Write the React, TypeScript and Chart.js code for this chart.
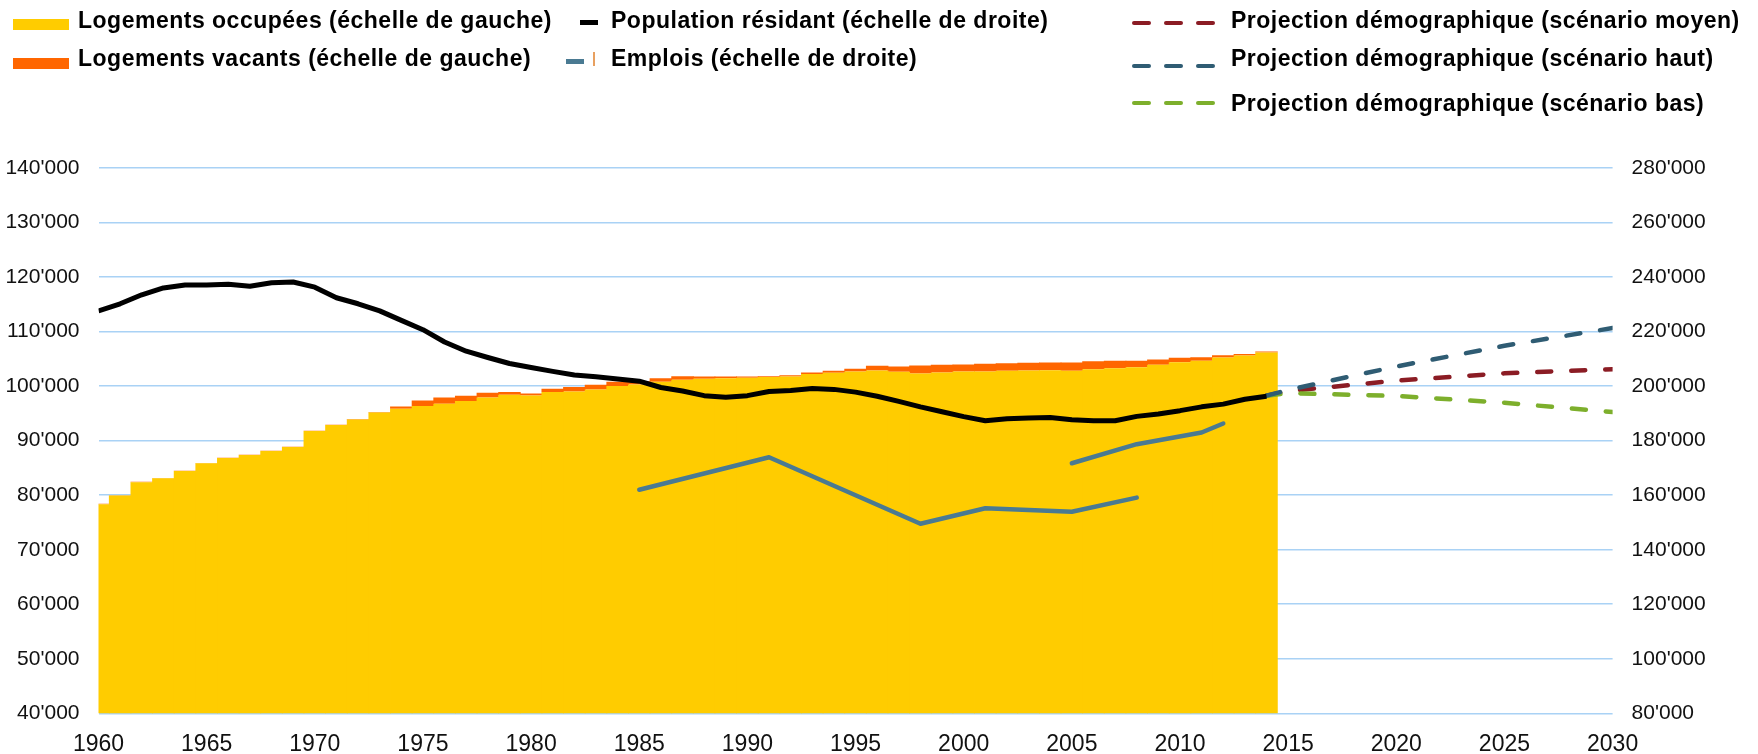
import React, { useEffect, useRef } from "react";
import { Chart, registerables } from "chart.js";

Chart.register(...registerables);

// ---------- DATA ----------
const YEARS = [
  1960, 1961, 1962, 1963, 1964, 1965, 1966, 1967, 1968, 1969,
  1970, 1971, 1972, 1973, 1974, 1975, 1976, 1977, 1978, 1979,
  1980, 1981, 1982, 1983, 1984, 1985, 1986, 1987, 1988, 1989,
  1990, 1991, 1992, 1993, 1994, 1995, 1996, 1997, 1998, 1999,
  2000, 2001, 2002, 2003, 2004, 2005, 2006, 2007, 2008, 2009,
  2010, 2011, 2012, 2013, 2014,
];

// Logements occupés (échelle de gauche)
const OCCUPIED = [
  78350, 79940, 82380, 83110, 84450, 85850, 86830, 87380, 88110, 88840,
  91770, 92870, 93900, 95180, 95850, 96340, 96770, 97260, 97930, 98410,
  98290, 98900, 99020, 99390, 100000, 100300, 100790, 101160, 101340, 101460,
  101520, 101650, 101770, 102200, 102440, 102680, 102870, 102620, 102320, 102500,
  102680, 102680, 102800, 102870, 102930, 102800, 103100, 103300, 103480, 103900,
  104390, 104630, 105240, 105600, 106160,
];

// Logements vacants (échelle de gauche)
const VACANT = [
  100, 60, 70, 60, 50, 50, 50, 50, 40, 40,
  50, 50, 50, 60, 430, 1040, 1160, 970, 850, 490,
  370, 610, 800, 850, 790, 600, 670, 670, 430, 310,
  250, 180, 230, 300, 360, 490, 850, 980, 1460, 1400,
  1280, 1410, 1400, 1400, 1400, 1530, 1470, 1330, 1150, 980,
  790, 670, 430, 300, 180,
];

// Population résidante (échelle de droite)
const POPULATION = [
  227600, 230200, 233500, 236000, 237100, 237100, 237400, 236600, 237900, 238200,
  236300, 232400, 230200, 227600, 224100, 220700, 216200, 212800, 210500, 208300,
  206800, 205400, 204100, 203400, 202600, 201800, 199500, 198200, 196500, 195900,
  196500, 198000, 198400, 199100, 198800, 197800, 196300, 194400, 192400, 190600,
  188800, 187300, 188000, 188300, 188500, 187700, 187300, 187300, 188900, 189800,
  191000, 192400, 193400, 195200, 196300,
];

// Emplois (échelle de droite) — deux séries
const EMPLOIS_A_YEARS = [1985, 1991, 1998, 2001, 2005, 2008];
const EMPLOIS_A = [162000, 173900, 149500, 155200, 153900, 159100];
const EMPLOIS_B_YEARS = [2005, 2008, 2011, 2012];
const EMPLOIS_B = [171700, 178700, 183000, 186300];

// Projections démographiques (échelle de droite)
const PROJ_YEARS = [2014, 2015, 2020, 2025, 2030];
const PROJ_MOYEN = [196500, 198200, 202000, 204700, 206200];
const PROJ_HAUT = [196500, 198600, 207200, 214800, 221300];
const PROJ_BAS = [196500, 197400, 196400, 193900, 190500];

const LEFT_MIN = 40000, LEFT_MAX = 140000, LEFT_STEP = 10000;
const RIGHT_MIN = 80000, RIGHT_MAX = 280000, RIGHT_STEP = 20000;
const X_MIN = 1960, X_MAX = 2030, X_STEP = 5;

// ---------- STYLE ----------
const C_YELLOW = "#FFCC00";
const C_ORANGE = "#FF6600";
const C_BLACK = "#000000";
const C_TEAL = "#4A7A92";
const C_RED = "#8B1C24";
const C_BLUE = "#2F5C73";
const C_GREEN = "#7DAF2C";
const C_GRID = "#A9D2F5";
const FONT = '"Liberation Sans", Arial, sans-serif';

const fmt = (v: number) => String(Math.round(v)).replace(/\B(?=(\d{3})+(?!\d))/g, "'");
const pts = (xs: number[], ys: number[]) => xs.map((x, i) => ({ x, y: ys[i] }));

const W = 1758, H = 754;
const PLOT_LEFT = 98.5, PLOT_RIGHT = 1612.6, PLOT_TOP = 168, PLOT_BOTTOM = 713.3;

function LegendText({ left, center, children }: any) {
  return (
    <div
      style={{
        position: "absolute",
        left,
        top: center - 11.2,
        fontSize: 23,
        lineHeight: "23px",
        fontWeight: 700,
        letterSpacing: "0.5px",
        whiteSpace: "nowrap",
        color: "#000",
      }}
    >
      {children}
    </div>
  );
}

function Box({ left, top, width, height, color, radius = 0 }: any) {
  return (
    <div style={{ position: "absolute", left, top, width, height, background: color, borderRadius: radius }} />
  );
}

function Dashes({ left, center, color }: any) {
  const d = 19, g = 13, h = 4.5;
  return (
    <>
      {[0, 1, 2].map((i) => (
        <Box key={i} left={left + i * (d + g)} top={center - h / 2} width={d} height={h} color={color} radius={2} />
      ))}
    </>
  );
}

export default function App() {
  const ref = useRef<HTMLCanvasElement | null>(null);

  useEffect(() => {
    if (!ref.current) return;
    const lineBase = {
      type: "line" as const,
      yAxisID: "y1",
      pointRadius: 0,
      pointHoverRadius: 0,
      tension: 0,
      fill: false,
      borderJoinStyle: "round" as const,
    };
    const chart = new Chart(ref.current, {
      type: "bar",
      data: {
        datasets: [
          {
            ...lineBase,
            label: "Population résidant (échelle de droite)",
            data: pts(YEARS, POPULATION),
            borderColor: C_BLACK,
            borderWidth: 5,
            borderCapStyle: "butt",
            order: 1,
          },
          {
            ...lineBase,
            label: "Emplois (échelle de droite)",
            data: pts(EMPLOIS_A_YEARS, EMPLOIS_A),
            borderColor: C_TEAL,
            borderWidth: 4.5,
            borderCapStyle: "round",
            order: 2,
          },
          {
            ...lineBase,
            label: "Emplois (échelle de droite) 2",
            data: pts(EMPLOIS_B_YEARS, EMPLOIS_B),
            borderColor: C_TEAL,
            borderWidth: 4.5,
            borderCapStyle: "round",
            order: 2,
          },
          {
            ...lineBase,
            label: "Projection démographique (scénario haut)",
            data: pts(PROJ_YEARS, PROJ_HAUT),
            borderColor: C_BLUE,
            borderWidth: 4.5,
            borderDash: [14, 20],
            borderCapStyle: "round",
            order: 3,
          },
          {
            ...lineBase,
            label: "Projection démographique (scénario bas)",
            data: pts(PROJ_YEARS, PROJ_BAS),
            borderColor: C_GREEN,
            borderWidth: 4.5,
            borderDash: [14, 20],
            borderCapStyle: "round",
            order: 4,
          },
          {
            ...lineBase,
            label: "Projection démographique (scénario moyen)",
            data: pts(PROJ_YEARS, PROJ_MOYEN),
            borderColor: C_RED,
            borderWidth: 4.5,
            borderDash: [14, 20],
            borderCapStyle: "round",
            order: 5,
          },
          {
            type: "bar",
            label: "Logements occupées (échelle de gauche)",
            data: pts(YEARS, OCCUPIED),
            backgroundColor: C_YELLOW,
            borderWidth: 0,
            barPercentage: 1.04,
            categoryPercentage: 1,
            yAxisID: "y",
            stack: "log",
            order: 10,
          },
          {
            type: "bar",
            label: "Logements vacants (échelle de gauche)",
            data: pts(YEARS, VACANT),
            backgroundColor: C_ORANGE,
            borderWidth: 0,
            barPercentage: 1.04,
            categoryPercentage: 1,
            yAxisID: "y",
            stack: "log",
            order: 11,
          },
        ] as any,
      },
      options: {
        responsive: false,
        maintainAspectRatio: false,
        animation: false,
        devicePixelRatio: 1,
        layout: { padding: { top: PLOT_TOP, left: 0, right: 0, bottom: 0 } },
        plugins: {
          legend: { display: false },
          tooltip: { enabled: false },
          title: { display: false },
        },
        scales: {
          x: {
            type: "linear",
            min: X_MIN,
            max: X_MAX,
            offset: false,
            stacked: true,
            grid: { display: false, drawTicks: false },
            border: { display: false },
            ticks: {
              stepSize: X_STEP,
              autoSkip: false,
              maxRotation: 0,
              padding: 18,
              color: "#111",
              font: { family: FONT, size: 23 },
              callback: (v: any) => String(v),
            },
            afterFit: (s: any) => {
              s.height = H - PLOT_BOTTOM;
            },
          },
          y: {
            type: "linear",
            position: "left",
            min: LEFT_MIN,
            max: LEFT_MAX,
            stacked: true,
            grid: { color: C_GRID, lineWidth: 1.5, drawTicks: false },
            border: { display: false },
            ticks: {
              stepSize: LEFT_STEP,
              padding: 19,
              color: "#111",
              font: { family: FONT, size: 21 },
              callback: (v: any) => fmt(v),
            },
            afterFit: (s: any) => {
              s.width = PLOT_LEFT;
            },
          },
          y1: {
            type: "linear",
            position: "right",
            min: RIGHT_MIN,
            max: RIGHT_MAX,
            stacked: false,
            grid: { display: false, drawTicks: false },
            border: { display: false },
            ticks: {
              stepSize: RIGHT_STEP,
              padding: 19,
              color: "#111",
              font: { family: FONT, size: 21 },
              callback: (v: any) => fmt(v),
            },
            afterFit: (s: any) => {
              s.width = W - PLOT_RIGHT;
            },
          },
        },
      } as any,
    });
    return () => chart.destroy();
  }, []);

  return (
    <div
      style={{
        position: "fixed",
        left: 0,
        top: 0,
        width: W,
        height: H,
        background: "#fff",
        fontFamily: FONT,
        overflow: "hidden",
      }}
    >
      <canvas ref={ref} width={W} height={H} style={{ position: "absolute", left: 0, top: 0, width: W, height: H }} />

      {/* Column 1 */}
      <Box left={13} top={19} width={56} height={11} color={C_YELLOW} />
      <LegendText left={78} center={20.5}>Logements occupées (échelle de gauche)</LegendText>
      <Box left={13} top={58} width={56} height={11} color={C_ORANGE} />
      <LegendText left={78} center={58.3}>Logements vacants (échelle de gauche)</LegendText>

      {/* Column 2 */}
      <Box left={580} top={20} width={18} height={4.5} color={C_BLACK} />
      <LegendText left={611} center={20.5}>Population résidant (échelle de droite)</LegendText>
      <Box left={566} top={59} width={18} height={4.5} color={C_TEAL} />
      <Box left={593} top={52} width={2} height={14} color="#E8A060" />
      <LegendText left={611} center={58.3}>Emplois (échelle de droite)</LegendText>

      {/* Column 3 */}
      <Dashes left={1132} center={23} color={C_RED} />
      <LegendText left={1231} center={20.5}>Projection démographique (scénario moyen)</LegendText>
      <Dashes left={1132} center={66} color={C_BLUE} />
      <LegendText left={1231} center={58.3}>Projection démographique (scénario haut)</LegendText>
      <Dashes left={1132} center={103} color={C_GREEN} />
      <LegendText left={1231} center={103}>Projection démographique (scénario bas)</LegendText>
    </div>
  );
}
